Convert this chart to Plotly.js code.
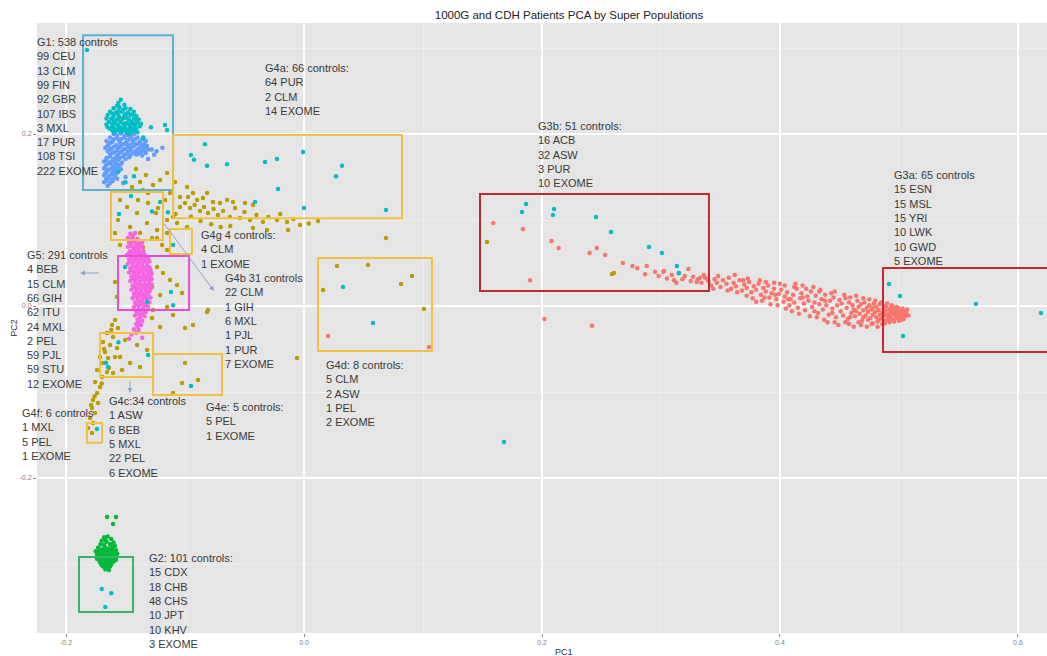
<!DOCTYPE html>
<html>
<head>
<meta charset="utf-8">
<script src="https://cdn.plot.ly/plotly-3.0.1.min.js"></script>
<style>
  html, body { margin: 0; padding: 0; background: #ffffff; }
  #chart { width: 1047px; height: 656px; }
</style>
</head>
<body>
<div id="chart"></div>
<script>
// PCA coordinates (PC1, PC2) per super population
const afrPoints = [
  [0.159,0.0965],[0.184,0.0895],[0.208,0.0756],[0.214,0.0674],[0.190,0.030],[0.240,0.0616],[0.246,0.0674],
  [0.253,0.0593],[0.202,-0.015],[0.242,-0.023],[0.2866,0.037],[0.313,0.027],[0.3025,0.0407],[0.0202,-0.0349],[0.105,-0.0477],
  [0.268,0.050],[0.276,0.0465],[0.280,0.044],[0.288,0.0465],[0.295,0.040],[0.302,0.040],[0.309,0.036],[0.318,0.031],
  [0.323,0.043],[0.327,0.034],[0.333,0.033],[0.339,0.031],[0.298,0.035],[0.305,0.032],[0.315,0.038],[0.320,0.035],
  [0.330,0.028],[0.336,0.036],[0.311,0.030],[0.325,0.029],
  [0.331,0.031],[0.334,0.027],[0.337,0.033],[0.340,0.029],[0.342,0.024],[0.345,0.031],[0.347,0.027],[0.350,0.022],
  [0.352,0.030],[0.355,0.026],[0.357,0.033],[0.359,0.020],[0.361,0.027],[0.363,0.023],[0.366,0.030],[0.368,0.018],
  [0.370,0.025],[0.372,0.021],
  [0.374,0.028],[0.376,0.016],[0.378,0.023],[0.380,0.019],[0.382,0.026],[0.384,0.013],[0.386,0.021],[0.388,0.017],
  [0.390,0.024],[0.391,0.010],[0.393,0.015],[0.395,0.020],[0.397,0.008],[0.399,0.014],[0.401,0.019],[0.403,0.005],
  [0.404,0.011],[0.406,0.016],[0.408,0.001],[0.409,0.008],
  [0.411,0.013],[0.412,0.004],[0.414,0.020],[0.415,-0.002],[0.417,0.009],[0.418,0.015],[0.420,0.003],[0.421,-0.005],
  [0.423,0.011],[0.424,0.006],[0.426,0.017],[0.427,-0.001],[0.429,0.004],[0.430,0.012],[0.432,-0.008],[0.433,0.002],
  [0.435,0.008],[0.436,-0.004],[0.438,0.013],[0.439,0.001],[0.441,-0.010],[0.442,0.006],[0.444,-0.003],[0.445,0.010],
  [0.447,-0.013],[0.448,0.001],[0.450,0.007],
  [0.451,-0.006],[0.452,0.003],[0.453,-0.011],[0.455,0.009],[0.456,-0.002],[0.457,-0.015],[0.458,0.004],[0.460,-0.008],
  [0.461,0.001],[0.462,-0.004],[0.463,-0.012],[0.465,0.006],[0.466,-0.001],[0.467,-0.009],[0.468,0.002],[0.469,-0.017],
  [0.470,-0.005],[0.471,0.004],[0.472,-0.011],[0.473,-0.002],[0.474,-0.007],[0.475,0.001],[0.476,-0.014],[0.477,-0.004],
  [0.478,-0.010],[0.479,0.003],
  [0.480,-0.007],[0.481,-0.013],[0.481,-0.001],[0.482,-0.018],[0.483,-0.005],[0.484,-0.010],[0.484,0.002],[0.485,-0.015],
  [0.486,-0.008],[0.487,-0.003],[0.487,-0.012],[0.488,-0.006],[0.489,-0.017],[0.489,0.000],[0.490,-0.010],[0.491,-0.004],
  [0.491,-0.014],[0.492,-0.008],[0.493,-0.001],[0.493,-0.012],[0.494,-0.006],[0.495,-0.016],[0.495,-0.009],[0.496,-0.003],
  [0.497,-0.011],[0.497,-0.006],[0.498,-0.014],[0.499,-0.008],[0.499,-0.002],[0.500,-0.011],[0.501,-0.005],[0.501,-0.013],
  [0.502,-0.008],[0.503,-0.010],[0.504,-0.006],[0.505,-0.012],[0.506,-0.008],
  [0.362,0.036],[0.373,0.032],[0.383,0.030],[0.395,0.027],[0.404,0.024],[0.412,0.022],[0.422,0.020],[0.433,0.017],
  [0.443,0.015],[0.372,0.012],[0.385,0.006],[0.398,0.001],[0.410,-0.006],[0.425,-0.012],[0.437,-0.016],[0.446,-0.019],
  [0.458,-0.021],[0.468,-0.022],[0.478,-0.020],
  [0.380,0.005],[0.388,0.028],[0.392,0.002],[0.400,0.026],[0.405,-0.003],[0.413,0.026],[0.416,-0.009],[0.419,0.024],
  [0.428,0.022],[0.431,-0.013],[0.434,0.019],[0.440,-0.019],[0.446,0.017],[0.449,-0.022],[0.454,0.013],[0.455,-0.019],
  [0.459,0.010],[0.462,-0.024],[0.464,0.012],[0.466,-0.019],[0.470,0.009],[0.473,-0.024],[0.475,0.008],[0.477,-0.021],
  [0.480,0.006],[0.482,-0.024],[0.485,0.004],[0.486,-0.021],[0.488,-0.020],[0.490,0.003],[0.492,-0.019],[0.494,0.001],
  [0.496,-0.018],[0.498,-0.001],[0.500,-0.017],[0.503,-0.003],[0.504,-0.015],[0.507,-0.004],[0.508,-0.011],[0.459,-0.013],
  [0.464,-0.006],[0.470,-0.013],[0.474,-0.016],[0.478,-0.002],[0.483,-0.016],[0.488,-0.010],[0.492,-0.015],[0.495,-0.001],
  [0.498,-0.005],[0.502,-0.016],[0.444,-0.008],[0.438,0.006],[0.429,-0.006],[0.419,0.010],[0.407,0.008],[0.396,0.013],
  [0.387,0.010],[0.377,0.009],[0.369,0.030],[0.364,0.016],[0.356,0.018],[0.348,0.035],[0.344,0.020]
];

const amrPoints = [
  [-0.1412,0.1593],[-0.1328,0.1523],[-0.1378,0.1442],[-0.1445,0.1384],[-0.1353,0.1349],[-0.1269,0.1407],[-0.1210,0.1465],
  [-0.1151,0.1547],[-0.1084,0.1442],[-0.1126,0.1314],[-0.1042,0.1267],[-0.0975,0.1267],[-0.0899,0.1233],[-0.0849,0.1256],
  [-0.0765,0.1209],[-0.0706,0.1198],[-0.0597,0.1209],[-0.0496,0.1198],[-0.0429,0.1174],[-0.1042,0.1151],[-0.0958,0.1140],
  [-0.0874,0.1105],[-0.0807,0.1081],[-0.0723,0.1058],[-0.0622,0.1035],[-0.0538,0.1023],[-0.0454,0.1000],[-0.0345,0.0977],
  [-0.0227,0.1000],[-0.0143,0.0977],[-0.0034,0.0942],[0.0118,0.0988],[0.0689,0.0791],[-0.0134,0.0884],[-0.0311,0.0884],
  [-0.0429,0.0907],[-0.1101,0.1035],[-0.1067,0.0965],[-0.0983,0.0919],[-0.1151,0.0849],[-0.1235,0.0884],[-0.1319,0.0965],
  [-0.1403,0.1081],[-0.1487,0.1151],[-0.1546,0.1233],[-0.1563,0.1000],[-0.1462,0.0919],[-0.1378,0.0849],[-0.1277,0.0791],
  [-0.1193,0.0709],[-0.1395,0.1233],[-0.1311,0.1198],[-0.1227,0.1140],[-0.1168,0.1233],[-0.1311,0.1314],[-0.1244,0.1081],
  [-0.1151,0.1000],[-0.0983,0.1384],[-0.0933,0.1314],[-0.0815,0.1314],[-0.0647,0.1233],
  [-0.1000,0.1198],[-0.0920,0.1174],[-0.0840,0.1151],[-0.0760,0.1128],[-0.0680,0.1105],[-0.0580,0.1140],[-0.0500,0.1093],
  [-0.0400,0.1058],[-0.0300,0.1035],[-0.0200,0.1070],[-0.0090,0.1012],[0.0040,0.0960],[-0.1080,0.1070],[-0.0950,0.1040],
  [-0.0870,0.0990],[-0.0780,0.0950],[-0.0700,0.0920],[-0.0620,0.0930],
  [-0.1588,0.0849],[-0.1235,0.0791],[-0.1353,0.0686],[-0.1151,0.0651],[-0.1546,0.0709],[-0.1235,0.0453],[-0.1185,0.0384],
  [-0.1126,0.0302],[-0.1277,0.0221],[-0.1210,0.0128],[-0.1067,0.0244],[-0.1025,0.0151],[-0.1151,-0.0012],[-0.1269,-0.0047],
  [-0.1101,-0.0105],[-0.0933,-0.0221],[-0.0815,-0.0070],[-0.1000,-0.0256],[-0.1210,-0.0244],[-0.1277,-0.0140],
  [-0.1588,0.0279],[-0.1571,0.0105],
  [-0.1588,-0.0163],[-0.1613,-0.0221],[-0.1563,-0.0256],[-0.1655,-0.0314],[-0.1605,-0.0360],[-0.1689,-0.0419],
  [-0.1630,-0.0453],[-0.1571,-0.0488],[-0.1672,-0.0535],[-0.1714,-0.0593],[-0.1647,-0.0605],[-0.1588,-0.0593],
  [-0.1689,-0.0663],[-0.1739,-0.0744],[-0.1655,-0.0767],[-0.1697,-0.0826],[-0.1756,-0.0884],[-0.1714,-0.0942],
  [-0.1739,-0.1012],[-0.1773,-0.1093],[-0.1731,-0.1128],[-0.1782,-0.1186],[-0.1756,-0.1244],[-0.1798,-0.1302],
  [-0.1773,-0.1360],[-0.1815,-0.1419],[-0.1782,-0.1477],
  [-0.1620,-0.0280],[-0.1680,-0.0500],[-0.1760,-0.1050],[-0.1700,-0.0900],[-0.1790,-0.1150],[-0.1640,-0.0720],
  [-0.1546,-0.0593],[-0.1462,-0.0663],[-0.1378,-0.0709],[-0.1319,-0.0512],[-0.1403,-0.0453],[-0.1504,-0.0395],
  [-0.1529,-0.0744],[-0.1605,-0.0779],
  [-0.1000,-0.0663],[-0.1025,-0.0895],[-0.0891,-0.0860],[-0.1101,-0.1012],
  [-0.0807,-0.0047],[-0.0059,-0.0605],
  [0.0277,0.0465],[0.0538,0.0477],[0.0160,0.0186],[0.0815,0.0256],[0.0908,0.0349],[0.1008,-0.0035],
  [0.1538,0.0744],[0.2588,0.0372],[0.2605,0.0384]
];

const easPoints = [
  [-0.168,-0.269],[-0.165,-0.268],[-0.162,-0.271],[-0.170,-0.273],[-0.166,-0.274],[-0.160,-0.275],[-0.163,-0.277],
  [-0.168,-0.278],[-0.171,-0.277],[-0.159,-0.279],
  [-0.173,-0.281],[-0.170,-0.283],[-0.167,-0.281],[-0.164,-0.282],[-0.161,-0.283],[-0.158,-0.284],[-0.175,-0.285],
  [-0.172,-0.287],[-0.169,-0.286],[-0.166,-0.285],[-0.163,-0.287],[-0.160,-0.286],[-0.157,-0.288],[-0.174,-0.289],
  [-0.171,-0.290],[-0.168,-0.289],[-0.165,-0.290],[-0.162,-0.289],[-0.159,-0.291],
  [-0.173,-0.292],[-0.170,-0.293],[-0.167,-0.292],[-0.164,-0.294],[-0.161,-0.293],[-0.158,-0.295],[-0.172,-0.296],
  [-0.169,-0.297],[-0.166,-0.296],[-0.163,-0.298],[-0.160,-0.297],[-0.171,-0.299],[-0.168,-0.300],[-0.165,-0.301],
  [-0.162,-0.300],
  [-0.169,-0.303],[-0.166,-0.304],[-0.163,-0.303],[-0.167,-0.306],[-0.164,-0.307],
  [-0.167,-0.272],[-0.161,-0.280],[-0.172,-0.284],[-0.168,-0.283],[-0.164,-0.286],[-0.159,-0.288],[-0.170,-0.288],
  [-0.166,-0.291],[-0.163,-0.291],[-0.174,-0.294],[-0.168,-0.295],[-0.161,-0.296],[-0.167,-0.298],[-0.164,-0.300],
  [-0.170,-0.301],[-0.166,-0.302],
  [-0.1655,-0.2453],[-0.158,-0.2453],[-0.1605,-0.2535]
];

const eurPoints = [
  [-0.160,0.200],[-0.154,0.201],[-0.148,0.199],[-0.143,0.200],
  [-0.163,0.196],[-0.157,0.195],[-0.151,0.196],[-0.146,0.195],[-0.140,0.196],
  [-0.166,0.192],[-0.161,0.191],[-0.155,0.192],[-0.149,0.191],[-0.144,0.192],[-0.138,0.191],[-0.133,0.192],
  [-0.164,0.188],[-0.158,0.187],[-0.152,0.188],[-0.147,0.187],[-0.141,0.188],[-0.136,0.187],
  [-0.167,0.184],[-0.162,0.183],[-0.156,0.184],[-0.150,0.183],[-0.145,0.184],[-0.139,0.183],[-0.134,0.184],[-0.131,0.182],
  [-0.165,0.180],[-0.159,0.179],[-0.153,0.180],[-0.148,0.179],[-0.142,0.180],[-0.137,0.179],[-0.133,0.178],
  [-0.163,0.176],[-0.157,0.175],[-0.151,0.176],[-0.146,0.175],[-0.141,0.176],[-0.136,0.175],
  [-0.166,0.172],[-0.160,0.171],[-0.155,0.172],[-0.150,0.171],
  [-0.168,0.168],[-0.163,0.167],[-0.158,0.168],[-0.153,0.167],
  [-0.166,0.164],[-0.161,0.163],[-0.156,0.164],
  [-0.168,0.160],[-0.163,0.159],[-0.158,0.160],[-0.154,0.159],
  [-0.166,0.156],[-0.161,0.155],[-0.157,0.156],
  [-0.168,0.152],[-0.164,0.151],[-0.159,0.152],
  [-0.166,0.148],[-0.161,0.147],[-0.157,0.148],
  [-0.168,0.144],[-0.163,0.143],[-0.165,0.140],
  [-0.128,0.182],[-0.124,0.180],[-0.119,0.184],[-0.126,0.176],[-0.131,0.171],[-0.152,0.143],[-0.150,0.150],
  [-0.157,0.198],[-0.151,0.198],[-0.145,0.198],[-0.160,0.194],[-0.154,0.194],[-0.148,0.193],[-0.142,0.194],[-0.136,0.194],
  [-0.163,0.190],[-0.155,0.190],[-0.150,0.189],[-0.144,0.190],[-0.139,0.189],[-0.134,0.189],[-0.165,0.186],[-0.160,0.185],
  [-0.154,0.186],[-0.148,0.185],[-0.143,0.186],[-0.137,0.185],[-0.132,0.186],[-0.163,0.182],[-0.157,0.181],[-0.152,0.182],
  [-0.146,0.181],[-0.140,0.182],[-0.135,0.181],[-0.161,0.178],[-0.155,0.178],[-0.149,0.177],[-0.144,0.178],[-0.139,0.177],
  [-0.163,0.174],[-0.158,0.173],[-0.152,0.174],[-0.147,0.173],[-0.166,0.170],[-0.161,0.169],[-0.156,0.170],[-0.164,0.166],
  [-0.159,0.165],[-0.154,0.165],[-0.167,0.162],[-0.160,0.161],[-0.156,0.162],[-0.165,0.158],[-0.160,0.157],[-0.167,0.154],
  [-0.162,0.153],[-0.158,0.154],[-0.164,0.149],[-0.159,0.150],[-0.166,0.146],[-0.161,0.145]
];

const sasPoints = [
  [-0.146,0.084],[-0.142,0.085],
  [-0.148,0.079],[-0.144,0.080],[-0.140,0.078],
  [-0.147,0.074],[-0.143,0.075],[-0.139,0.073],[-0.136,0.074],
  [-0.148,0.069],[-0.145,0.070],[-0.141,0.068],[-0.137,0.069],
  [-0.146,0.064],[-0.142,0.065],[-0.138,0.063],[-0.135,0.064],
  [-0.149,0.059],[-0.145,0.060],[-0.141,0.058],[-0.137,0.059],[-0.134,0.060],
  [-0.147,0.054],[-0.143,0.055],[-0.139,0.053],[-0.135,0.054],[-0.131,0.055],
  [-0.148,0.049],[-0.144,0.050],[-0.140,0.048],[-0.136,0.049],[-0.132,0.050],
  [-0.146,0.044],[-0.142,0.045],[-0.138,0.043],[-0.134,0.044],[-0.130,0.045],
  [-0.147,0.039],[-0.143,0.040],[-0.139,0.038],[-0.135,0.039],[-0.131,0.040],[-0.128,0.038],
  [-0.145,0.034],[-0.141,0.035],[-0.137,0.033],[-0.133,0.034],[-0.129,0.035],
  [-0.146,0.029],[-0.142,0.030],[-0.138,0.028],[-0.134,0.029],[-0.130,0.030],
  [-0.144,0.024],[-0.140,0.025],[-0.136,0.023],[-0.132,0.024],[-0.128,0.025],
  [-0.145,0.019],[-0.141,0.020],[-0.137,0.018],[-0.133,0.019],[-0.129,0.020],
  [-0.143,0.014],[-0.139,0.015],[-0.135,0.013],[-0.131,0.014],
  [-0.144,0.009],[-0.140,0.010],[-0.136,0.008],[-0.132,0.009],[-0.129,0.010],
  [-0.142,0.004],[-0.138,0.005],[-0.134,0.003],[-0.130,0.004],
  [-0.143,-0.001],[-0.139,0.000],[-0.135,-0.002],[-0.131,-0.001],
  [-0.141,-0.006],[-0.137,-0.005],[-0.133,-0.007],
  [-0.142,-0.011],[-0.138,-0.010],[-0.134,-0.012],
  [-0.140,-0.016],[-0.136,-0.017],
  [-0.141,-0.021],[-0.137,-0.022],
  [-0.143,-0.027],[-0.139,-0.028],
  [-0.145,-0.033],
  [-0.147,-0.038],[-0.136,-0.037],
  [-0.144,0.082],[-0.146,0.077],[-0.142,0.076],[-0.145,0.072],[-0.141,0.071],[-0.138,0.071],[-0.143,0.067],[-0.139,0.066],
  [-0.147,0.062],[-0.143,0.062],[-0.140,0.061],[-0.136,0.061],[-0.145,0.057],[-0.141,0.056],[-0.137,0.056],[-0.133,0.057],
  [-0.146,0.052],[-0.142,0.052],[-0.138,0.051],[-0.134,0.052],[-0.130,0.052],[-0.144,0.047],[-0.140,0.046],[-0.136,0.046],
  [-0.132,0.047],[-0.145,0.042],[-0.141,0.041],[-0.137,0.041],[-0.133,0.042],[-0.129,0.042],[-0.143,0.037],[-0.139,0.036],
  [-0.135,0.036],[-0.131,0.037],[-0.144,0.032],[-0.140,0.032],[-0.136,0.031],[-0.132,0.032],[-0.128,0.031],[-0.142,0.027],
  [-0.138,0.026],[-0.134,0.026],[-0.130,0.027],[-0.143,0.022],[-0.139,0.021],[-0.135,0.021],[-0.131,0.022],[-0.141,0.017],
  [-0.137,0.016],[-0.133,0.016],[-0.130,0.017],[-0.142,0.012],[-0.138,0.012],[-0.134,0.011],[-0.140,0.007],[-0.136,0.006],
  [-0.132,0.006],[-0.141,0.002],[-0.137,0.002],[-0.133,0.001],[-0.139,-0.004],[-0.135,-0.004],[-0.140,-0.008],[-0.136,-0.009],
  [-0.138,-0.014],[-0.139,-0.019],[-0.140,-0.024],[-0.141,-0.031]
];

// CDH patients (exome)
const cdhPoints = [
  [-0.154,0.240],[-0.156,0.236],[-0.151,0.234],
  [-0.160,0.230],[-0.155,0.231],[-0.150,0.230],[-0.146,0.229],
  [-0.163,0.226],[-0.158,0.225],[-0.153,0.226],[-0.148,0.225],[-0.143,0.226],
  [-0.165,0.222],[-0.160,0.221],[-0.156,0.222],[-0.151,0.221],[-0.146,0.222],[-0.141,0.221],
  [-0.162,0.218],[-0.157,0.217],[-0.152,0.218],[-0.147,0.217],[-0.143,0.218],[-0.139,0.217],
  [-0.164,0.214],[-0.159,0.213],[-0.154,0.214],[-0.149,0.213],[-0.145,0.214],[-0.140,0.213],
  [-0.161,0.210],[-0.156,0.209],[-0.151,0.210],[-0.146,0.209],[-0.142,0.210],[-0.138,0.209],
  [-0.163,0.206],[-0.158,0.205],[-0.153,0.206],[-0.148,0.205],[-0.144,0.206],
  [-0.159,0.202],[-0.154,0.203],[-0.149,0.202],[-0.145,0.203],[-0.140,0.202],
  [-0.157,0.233],[-0.152,0.228],[-0.161,0.224],[-0.156,0.227],[-0.150,0.223],[-0.144,0.223],[-0.166,0.218],[-0.160,0.216],
  [-0.155,0.219],[-0.149,0.219],[-0.141,0.216],[-0.166,0.211],[-0.161,0.212],[-0.157,0.211],[-0.152,0.212],[-0.147,0.211],
  [-0.143,0.212],[-0.137,0.212],[-0.165,0.208],[-0.160,0.207],[-0.155,0.208],[-0.150,0.207],[-0.146,0.207],[-0.141,0.206],
  [-0.161,0.204],[-0.156,0.204],[-0.151,0.204],[-0.147,0.201],[-0.142,0.204],
  [-0.1286,0.208],[-0.1168,0.2105],[-0.1151,0.2047],[-0.135,0.196],[-0.150,0.144],[-0.156,0.156],[-0.1824,0.2977],[-0.1429,0.151],
  [-0.095,0.1756],[-0.0924,0.170],[-0.0832,0.188],[-0.0815,0.163],[-0.0647,0.165],[-0.0328,0.1674],[-0.0227,0.171],
  [-0.0008,0.179],[-0.0218,0.136],[0.0319,0.163],[0.0269,0.151],[0.000,0.114],[0.0689,0.1116],[-0.0412,0.121],
  [-0.121,0.121],[-0.1454,0.128],[-0.1555,0.107],[-0.1277,0.110],[-0.1143,0.109],
  [-0.110,0.071],[-0.1504,0.0453],[-0.1319,0.0047],[-0.1118,0.0163],[-0.110,0.001],[-0.156,-0.042],[-0.131,-0.057],
  [-0.1664,-0.066],[-0.1647,-0.071],[-0.095,-0.093],[-0.174,-0.143],
  [0.0328,0.0221],[0.058,-0.0198],[0.168,-0.158],
  [0.1866,0.1186],[0.1832,0.1093],[0.2101,0.1128],[0.2092,0.1058],[0.2454,0.1035],[0.258,0.086],[0.2899,0.0686],
  [0.3008,0.0616],[0.3134,0.0465],[0.3151,0.0384],
  [0.4916,0.0256],[0.5008,0.0116],[0.5647,0.0023],[0.6193,-0.0081],[0.5034,-0.0349],
  [-0.170,-0.329],[-0.162,-0.334],[-0.167,-0.350]
];

// Group annotations
const g1Lines  = ['G1: 538 controls','99 CEU','13 CLM','99 FIN','92 GBR','107 IBS','3 MXL','17 PUR','108 TSI','222 EXOME'];
const g4aLines = ['G4a: 66 controls:','64 PUR','2 CLM','14 EXOME'];
const g4gLines = ['G4g 4 controls:','4 CLM','1 EXOME'];
const g4bLines = ['G4b 31 controls','22 CLM','1 GIH','6 MXL','1 PJL','1 PUR','7 EXOME'];
const g5Lines  = ['G5: 291 controls','4 BEB','15 CLM','66 GIH','62 ITU','24 MXL','2 PEL','59 PJL','59 STU','12 EXOME'];
const g4cLines = ['G4c:34 controls','1 ASW','6 BEB','5 MXL','22 PEL','6 EXOME'];
const g4fLines = ['G4f: 6 controls','1 MXL','5 PEL','1 EXOME'];
const g4eLines = ['G4e: 5 controls:','5 PEL','1 EXOME'];
const g4dLines = ['G4d: 8 controls:','5 CLM','2 ASW','1 PEL','2 EXOME'];
const g3bLines = ['G3b: 51 controls:','16 ACB','32 ASW','3 PUR','10 EXOME'];
const g3aLines = ['G3a: 65 controls','15 ESN','15 MSL','15 YRI','10 LWK','10 GWD','5 EXOME'];
const g2Lines  = ['G2: 101 controls:','15 CDX','18 CHB','48 CHS','10 JPT','10 KHV','3 EXOME'];

const groups = [
  { name: 'AFR', pts: afrPoints, color: '#F8766D' },
  { name: 'AMR', pts: amrPoints, color: '#B79F00' },
  { name: 'EAS', pts: easPoints, color: '#00BA38' },
  { name: 'EUR', pts: eurPoints, color: '#619CFF' },
  { name: 'SAS', pts: sasPoints, color: '#F564E3' },
  { name: 'CDH', pts: cdhPoints, color: '#00BFC4' }
];

const traces = groups.map(g => ({
  type: 'scatter',
  mode: 'markers',
  name: g.name,
  x: g.pts.map(p => p[0]),
  y: g.pts.map(p => p[1]),
  marker: { color: g.color, size: 4.5, line: { width: 0 } },
  hoverinfo: 'x+y+name'
}));

function box(x0, x1, y0, y1, color) {
  return { type: 'rect', xref: 'x', yref: 'y', x0, x1, y0, y1,
           line: { color, width: 2 }, fillcolor: 'rgba(0,0,0,0)', layer: 'above' };
}
const gold = '#F3C141';
const shapes = [
  box(-0.1857, -0.1101, 0.135, 0.315, '#5BB1D3'),   // G1
  box(-0.110, 0.0824, 0.102, 0.199, gold),          // G4a
  box(-0.1622, -0.1185, 0.0767, 0.1326, gold),
  box(-0.1126, -0.0941, 0.0605, 0.0895, gold),      // G4g
  box(-0.1563, -0.0966, -0.0047, 0.0581, '#E64ED6'),// G5
  box(-0.1714, -0.1269, -0.0826, -0.0314, gold),    // G4c
  box(-0.1269, -0.0689, -0.1035, -0.0558, gold),    // G4e
  box(-0.1824, -0.1697, -0.159, -0.136, gold),      // G4f
  box(0.0118, 0.1076, -0.0523, 0.0558, gold),       // G4d
  box(0.1479, 0.3403, 0.0174, 0.1302, '#BF2A2E'),   // G3b
  box(0.4866, 0.66, -0.0535, 0.0442, '#BF2A2E'),    // G3a
  box(-0.1891, -0.1437, -0.3558, -0.2919, '#35B46E')// G2
];

function label(lines, x, y) {
  return { xref: 'paper', yref: 'paper', x, y, xanchor: 'left', yanchor: 'top', align: 'left',
           showarrow: false, text: lines.join('<br>'),
           font: { size: 11, color: '#3a3a3a', family: '"Liberation Sans", Arial, sans-serif' } };
}
function arrow(x, y, ax, ay) {
  return { xref: 'paper', yref: 'paper', x, y, ax, ay, text: '', showarrow: true,
           arrowhead: 2, arrowsize: 1, arrowwidth: 1, arrowcolor: '#8FA3C6' };
}
const annotations = [
  label(g1Lines, -0.002, 0.982),
  label(g4aLines, 0.2238, 0.9393),
  label(g4gLines, 0.1604, 0.6656),
  label(g4bLines, 0.1842, 0.5951),
  label(g5Lines, -0.0119, 0.6328),
  label(g4cLines, 0.0693, 0.3934),
  label(g4fLines, -0.0168, 0.3738),
  label(g4eLines, 0.1653, 0.3836),
  label(g4dLines, 0.2842, 0.4525),
  label(g3bLines, 0.4941, 0.8443),
  label(g3aLines, 0.8465, 0.7639),
  label(g2Lines, 0.1089, 0.1361),
  arrow(0.0426, 0.5902, 20, 0),
  arrow(0.1752, 0.5607, -51, -69),
  arrow(0.0921, 0.3934, 0, -13),
  // PC1 axis title, centred under the full panel
  { xref: 'paper', yref: 'paper', x: 0.5218, y: -0.019, xanchor: 'center', yanchor: 'top',
    showarrow: false, text: 'PC1', font: { size: 9, color: '#333333' } }
];

const axisCommon = {
  showgrid: true, gridcolor: '#ffffff', gridwidth: 1.1,
  zeroline: false, showline: false,
  ticks: 'outside', ticklen: 3, tickcolor: '#8c8c8c', tickwidth: 1,
  tickfont: { size: 7, color: '#808080' },
  automargin: false, fixedrange: true
};

const layout = {
  width: 1047, height: 656,
  margin: { l: 37, r: 0, t: 23, b: 23 },
  paper_bgcolor: '#ffffff',
  plot_bgcolor: '#E5E5E5',
  showlegend: false,
  font: { family: '"Liberation Sans", Arial, sans-serif', color: '#333333' },
  title: {
    text: '1000G and CDH Patients PCA by Super Populations',
    xref: 'container', yref: 'container',
    x: 569 / 1047, xanchor: 'center',
    y: 1 - 15 / 656, yanchor: 'middle',
    font: { size: 11.5, color: '#222222' }
  },
  xaxis: Object.assign({}, axisCommon, {
    range: [-0.2244, 0.6244],
    tickvals: [-0.2, 0, 0.2, 0.4, 0.6],
    ticktext: ['-0.2', '0.0', '0.2', '0.4', '0.6'],
    minor: { tickvals: [-0.1, 0.1, 0.3, 0.5], showgrid: true, gridcolor: '#F2F2F2', gridwidth: 0.6, ticks: '' }
  }),
  yaxis: Object.assign({}, axisCommon, {
    range: [-0.3802, 0.3291],
    tickvals: [-0.2, 0, 0.2],
    ticktext: ['-0.2', '0.0', '0.2'],
    minor: { tickvals: [-0.3, -0.1, 0.1, 0.3], showgrid: true, gridcolor: '#F2F2F2', gridwidth: 0.6, ticks: '' },
    title: { text: 'PC2', font: { size: 9, color: '#333333' }, standoff: 0 }
  }),
  shapes,
  annotations
};

Plotly.newPlot('chart', traces, layout, { displayModeBar: false, staticPlot: true });
</script>
</body>
</html>
